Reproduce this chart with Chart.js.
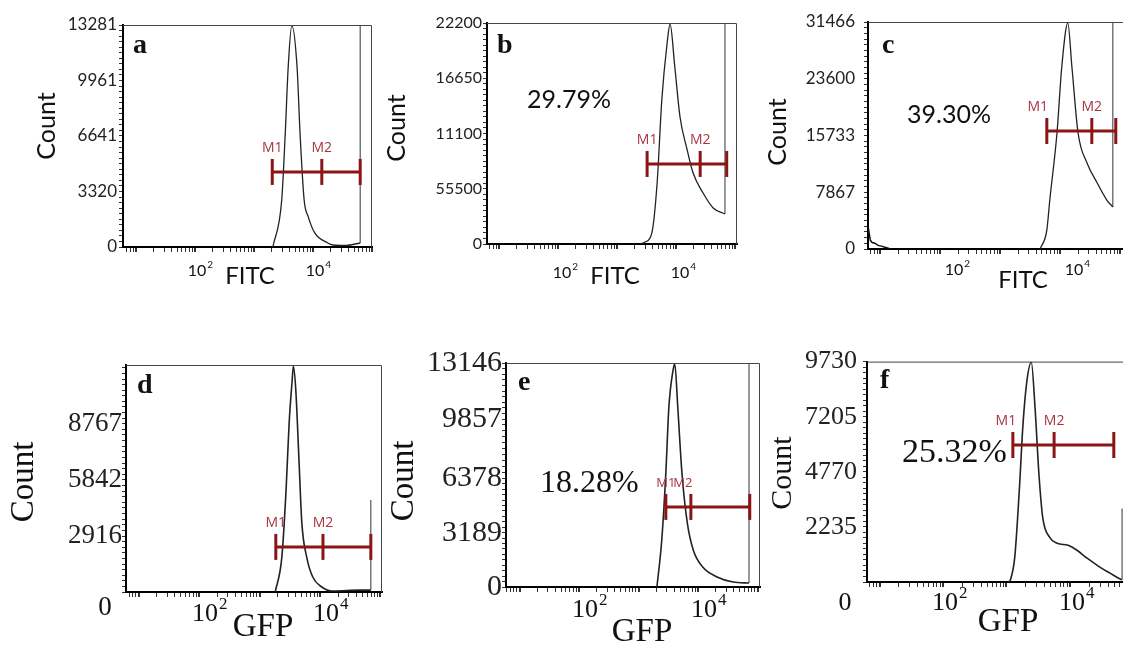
<!DOCTYPE html>
<html>
<head>
<meta charset="utf-8">
<script src="https://cdn.jsdelivr.net/npm/chart.js@4.4.1/dist/chart.umd.min.js"></script>
<style>
html, body { margin: 0; padding: 0; background: #fff; width: 1123px; height: 649px; overflow: hidden; position: relative; }
canvas { position: absolute; }
</style>
</head>
<body>
<script>
// ======================= DATA =======================
const panelNames = ['a', 'b', 'c', 'd', 'e', 'f'];
const xTitles = ['FITC', 'FITC', 'FITC', 'GFP', 'GFP', 'GFP'];
const pctText = ['', '29.79%', '39.30%', '', '18.28%', '25.32%'];

// histogram curves: fluorescence intensity / count
const aX = [2090, 2950, 3390, 3800, 4370, 5370, 6030, 7080, 8320, 10700, 17800, 21900, 34700, 63100];
const aY = [0, 2810, 6820, 10770, 13250, 10770, 6820, 2810, 1800, 840, 240, 120, 90, 240];
const bX = [2500, 3000, 3890, 4790, 5750, 7080, 7940, 9550, 11700, 15500, 19500, 28800, 42700, 67600];
const bY = [0, 200, 1100, 6130, 14470, 20190, 22100, 17780, 12760, 9440, 7130, 5120, 3620, 3010];
const cX = [4680, 6030, 6760, 8910, 10700, 13500, 15800, 20000, 28200, 41700, 60300, 75900];
const cY = [0, 2630, 6790, 16080, 25230, 31300, 25230, 16080, 11920, 9150, 6790, 5820];
const cDebrisX = [6.4, 6.9, 7.4, 8.2, 9.3, 10.5, 12.5, 15];
const cDebrisY = [2900, 1200, 900, 800, 500, 400, 200, 0];
const dX = [1820, 2340, 2750, 3090, 3470, 3630, 3980, 4470, 5010, 6030, 7590, 10700, 16200, 45700, 69200];
const dY = [0, 1820, 5320, 8810, 11050, 11780, 10530, 7040, 3600, 1820, 780, 260, 50, 100, 100];
const eX = [2040, 2460, 2880, 3240, 3800, 4070, 4570, 5370, 6610, 8320, 12000, 20900, 38900, 72000];
const eY = [0, 2760, 6690, 10560, 12700, 13100, 10560, 6690, 3760, 2170, 1170, 590, 290, 235];
const fX = [1080, 1150, 1350, 1590, 1820, 2090, 2460, 2820, 3240, 3720, 4790, 6310, 9330, 12900, 18600, 29500, 42700, 61700, 66100];
const fY = [0, 90, 1100, 4030, 6970, 8850, 9700, 7670, 4780, 2850, 1970, 1710, 1620, 1400, 1050, 660, 390, 130, 100];

const curvesX = [aX, bX, cX, dX, eX, fX];
const curvesY = [aY, bY, cY, dY, eY, fY];

// last-bin pile-up (vertical line at the right end)
const spikeTop = [13281, 22200, 31466, 4800, 13146, 3240];

// M1 / M2 gates: start, M2 mark, end; and the count level they sit at
const gateX = [[2040, 14100, 63100], [3240, 25700, 72400], [6030, 33900, 85100],
               [1860, 11200, 69200], [2880, 7590, 74100], [1260, 5620, 49000]];
const gateY = [4490, 8040, 16360, 2350, 4700, 6050];

// y axes
const yMaxes = [13281, 22200, 31466, 11830, 13146, 9730];
const yTickVals = [[0, 3320, 6641, 9961, 13281], [0, 5550, 11100, 16650, 22200], [0, 7867, 15733, 23600, 31466],
                   [0, 2916, 5842, 8767], [0, 3189, 6378, 9857, 13146], [0, 2432, 4865, 7298, 9730]];
const yTickText = [['0', '3320', '6641', '9961', '13281'], ['0', '55500', '11100', '16650', '22200'],
                   ['0', '7867', '15733', '23600', '31466'], ['', '2916', '5842', '8767'],
                   ['0', '3189', '6378', '9857', '13146'], ['', '2235', '4770', '7205', '9730']];

// x axis labels: 10^2 and 10^4
const xTickVals = [100, 10000];
const xTickExp = ['2', '4'];

// ======================= LAYOUT / STYLE =======================
const SANS = 'Lato, "Open Sans", sans-serif';
const SERIF = '"Liberation Serif", "DejaVu Serif", serif';
const RED = '#8b1414';

const layout = [
  {l: 123, t: 25, r: 372, b: 247, lo: 0.78, hi: 5.0, fam: SANS, yFs: 17, yPad: 2, count: [47, 126, 25], xt: [250, 276, 24], xl: [2, 24, 16], letter: [133, 53], pct: null, mDx: [0, 0], mFs: 14, zero: null, lw: 1.3},
  {l: 487, t: 23, r: 737, b: 244, lo: 0.797, hi: 5.034, fam: SANS, yFs: 16, yPad: 1, count: [397, 128, 25], xt: [615, 276, 24], xl: [4, 29, 16], letter: [497, 53], pct: [527, 100, 25], mDx: [0, 0], mFs: 14, zero: null, lw: 1.3},
  {l: 868, t: 22, r: 1126, b: 249, lo: 0.8, hi: 5.1, fam: SANS, yFs: 17, yPad: 9, count: [778, 132, 25], xt: [1023, 280, 24], xl: [14, 21, 16], letter: [882, 53], pct: [907, 115, 25], mDx: [-9, 0], mFs: 14, zero: null, lw: 1.3},
  {l: 126, t: 365, r: 382, b: 592, lo: 0.793, hi: 5.025, fam: SERIF, yFs: 27, yPad: 0, count: [24, 482, 33], xt: [263, 627, 33], xl: [6, 22, 26], letter: [137, 393], pct: null, mDx: [0, 0], mFs: 14, zero: [105, 608], lw: 1.6},
  {l: 506, t: 363, r: 760, b: 587, lo: 0.773, hi: 5.042, fam: SERIF, yFs: 30, yPad: 0, count: [404, 481, 33], xt: [642, 632, 33], xl: [6, 23, 26], letter: [518, 390], pct: [540, 484, 32], mDx: [0, -8], mFs: 13, zero: null, lw: 1.6},
  {l: 867, t: 360, r: 1135, b: 582, lo: 0.803, hi: 5.024, fam: SERIF, yFs: 26, yPad: 6, count: [783, 473, 30], xt: [1008, 622, 33], xl: [2, 21, 26], letter: [880, 388], pct: [902, 453, 34], mDx: [-7, 0], mFs: 14, zero: [845, 603], lw: 1.6}
];

const pts = (xs, ys) => xs.map((x, k) => ({x: x, y: ys[k]}));
const isDecade = v => Math.abs(Math.log10(v) - Math.round(Math.log10(v))) < 1e-9;

function put(c, s, x, y, f, align, rot) {
  c.save();
  c.translate(x, y);
  if (rot) c.rotate(rot);
  c.font = f;
  c.fillStyle = '#111';
  c.textAlign = align || 'center';
  c.textBaseline = 'middle';
  c.fillText(s, 0, 0);
  c.restore();
}

// ======================= PANELS =======================
panelNames.forEach((name, i) => {
  const L = layout[i];
  const cx = Math.max(0, L.l - 125), cy = L.t - 20;
  const cv = document.createElement('canvas');
  cv.width = L.r + 8 - cx;
  cv.height = L.b + 62 - cy;
  cv.style.left = cx + 'px';
  cv.style.top = cy + 'px';
  document.body.appendChild(cv);

  const xs = curvesX[i], ys = curvesY[i];
  const last = xs.length - 1;

  const datasets = [
    { data: pts(gateX[i], gateX[i].map(() => gateY[i])), borderColor: RED, borderWidth: 3,
      pointStyle: 'line', pointRotation: 90, pointRadius: 13, pointBorderWidth: 3,
      pointBorderColor: RED, pointHoverRadius: 13 },
    { data: pts(xs, ys), borderColor: '#222', borderWidth: L.lw, pointRadius: 0,
      cubicInterpolationMode: 'monotone' },
    { data: [{x: xs[last], y: ys[last]}, {x: xs[last], y: spikeTop[i]}],
      borderColor: '#555', borderWidth: 1.2, pointRadius: 0 }
  ];
  if (name === 'c') {
    datasets.push({ data: pts(cDebrisX, cDebrisY), borderColor: '#111', borderWidth: 1.5, pointRadius: 0 });
  }

  const deco = {
    id: 'deco' + name,
    afterDraw(ch) {
      const c = ch.ctx, A = ch.chartArea, sx = ch.scales.x, sy = ch.scales.y;
      // thin frame top / right
      c.save();
      c.strokeStyle = '#444';
      c.lineWidth = 1;
      c.beginPath();
      c.moveTo(A.left, A.top + 0.5);
      c.lineTo(A.right - 0.5, A.top + 0.5);
      c.lineTo(A.right - 0.5, A.bottom);
      c.stroke();
      c.restore();

      // axis titles
      put(c, 'Count', L.count[0] - cx, L.count[1] - cy, L.count[2] + 'px ' + L.fam, 'center', -Math.PI / 2);
      put(c, xTitles[i], L.xt[0] - cx, L.xt[1] - cy, L.xt[2] + 'px ' + L.fam);

      // x tick labels 10^n
      const fs = L.xl[2];
      xTickVals.forEach((v, k) => {
        const px = sx.getPixelForValue(v) + L.xl[0];
        const py = A.bottom + L.xl[1];
        c.save();
        c.font = fs + 'px ' + L.fam;
        const w = c.measureText('10').width;
        c.restore();
        put(c, '10', px, py, fs + 'px ' + L.fam);
        put(c, xTickExp[k], px + w / 2 + 1, py - fs * 0.36, Math.round(fs * 0.64) + 'px ' + L.fam, 'left');
      });

      // displaced zero label
      if (L.zero) put(c, '0', L.zero[0] - cx, L.zero[1] - cy, L.yFs + 'px ' + L.fam);

      // panel letter
      c.save();
      c.font = 'bold 28px ' + SERIF;
      c.fillStyle = '#111';
      c.textAlign = 'left';
      c.textBaseline = 'alphabetic';
      c.fillText(name, L.letter[0] - cx, L.letter[1] - cy);
      c.restore();

      // percentage
      if (L.pct) put(c, pctText[i], L.pct[0] - cx, L.pct[1] - cy, L.pct[2] + 'px ' + L.fam, 'left');

      // gate labels
      ['M1', 'M2'].forEach((m, k) => {
        c.save();
        c.font = L.mFs + 'px "Open Sans", Lato, sans-serif';
        c.fillStyle = '#a83440';
        c.textAlign = 'center';
        c.textBaseline = 'middle';
        c.fillText(m, sx.getPixelForValue(gateX[i][k]) + L.mDx[k], sy.getPixelForValue(gateY[i]) - 24);
        c.restore();
      });
    }
  };

  const ch = new Chart(cv, {
    type: 'line',
    data: { datasets: datasets },
    options: {
      responsive: false,
      animation: false,
      devicePixelRatio: 1,
      events: [],
      layout: { autoPadding: false, padding: { left: 0, top: 20, right: 8, bottom: 0 } },
      plugins: { legend: { display: false }, tooltip: { enabled: false } },
      scales: {
        x: {
          type: 'logarithmic',
          min: Math.pow(10, L.lo),
          max: Math.pow(10, L.hi),
          afterBuildTicks: s => {
            const out = [];
            for (let d = 0; d <= 5; d++) {
              for (let m = 1; m <= 9; m++) {
                const v = m * Math.pow(10, d);
                if (v >= s.min && v <= s.max) out.push({ value: v });
              }
            }
            s.ticks = out;
          },
          afterFit: s => { s.height = 62; },
          ticks: { autoSkip: false, maxRotation: 0, callback: () => '' },
          grid: {
            drawOnChartArea: false, drawTicks: true, tickLength: 5, color: '#333',
            lineWidth: ctx => (ctx.tick && isDecade(ctx.tick.value) ? 2 : 1)
          },
          border: { color: '#000', width: 2 }
        },
        y: {
          type: 'linear',
          min: 0,
          max: yMaxes[i],
          afterBuildTicks: s => {
            const v = yTickVals[i], out = [];
            const baseStep = (v[1] - v[0]) / 10;
            for (let k = 0; k < v.length; k++) {
              out.push({ value: v[k] });
              const next = k + 1 < v.length ? v[k + 1] : yMaxes[i];
              if (next <= v[k]) continue;
              const st = k + 1 < v.length ? (next - v[k]) / 10 : baseStep;
              for (let m = 1; v[k] + m * st < next - 1e-6; m++) out.push({ value: v[k] + m * st });
            }
            s.ticks = out.sort((p, q) => p.value - q.value);
          },
          afterFit: s => { s.width = L.l - cx; },
          ticks: {
            autoSkip: false,
            padding: L.yPad,
            color: '#222',
            font: { family: L.fam, size: L.yFs },
            callback: val => {
              const k = yTickVals[i].indexOf(val);
              return k >= 0 ? yTickText[i][k] : '';
            }
          },
          grid: { drawOnChartArea: false, drawTicks: true, tickLength: 4, color: '#333' },
          border: { color: '#000', width: 2 }
        }
      }
    },
    plugins: [deco]
  });

  // make the plot box land exactly on the measured frame
  const A = ch.chartArea, pad = ch.options.layout.padding;
  const dr = A.right - (L.r - cx), dt = (L.t - cy) - A.top, db = A.bottom - (L.b - cy);
  if (Math.abs(dr) > 0.5 || Math.abs(dt) > 0.5 || Math.abs(db) > 0.5) {
    ch.options.layout.padding = { left: 0, top: pad.top + dt, right: pad.right + dr, bottom: pad.bottom + db };
    ch.update();
  }
});
</script>
</body>
</html>
